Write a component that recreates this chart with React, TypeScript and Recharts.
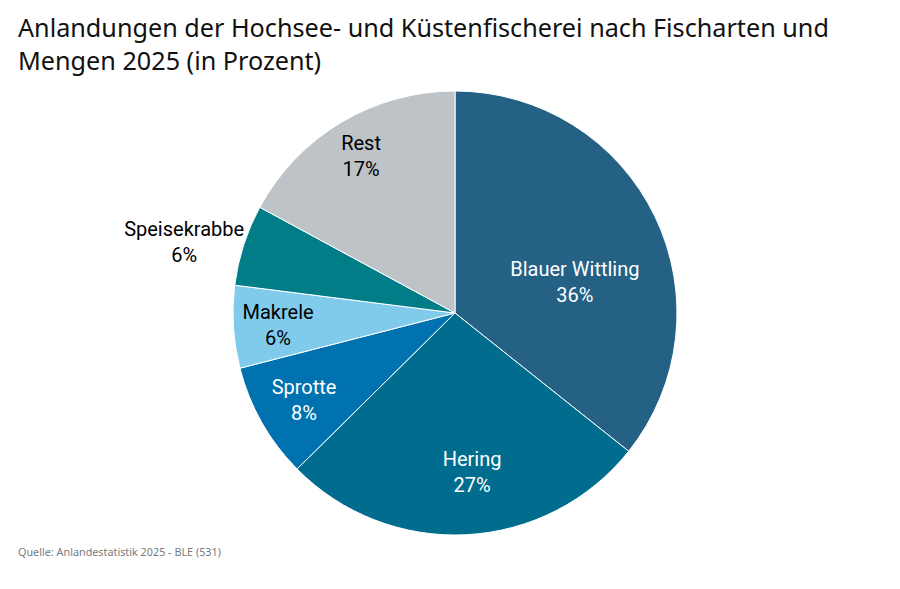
import React from 'react';
import { PieChart, Pie, Cell } from 'recharts';

const categories = ['Blauer Wittling', 'Hering', 'Sprotte', 'Makrele', 'Speisekrabbe', 'Rest'];
const values = [35.7, 26.9, 8.4, 6.0, 5.9, 17.1];
const percentLabels = ['36%', '27%', '8%', '6%', '6%', '17%'];
const colors = ['#246184', '#006d8f', '#0072b0', '#80cbeb', '#007d87', '#bdc3c7'];
const labelColors = ['#ffffff', '#ffffff', '#ffffff', '#000000', '#000000', '#000000'];
// label placement relative to pie centre, as fractions of the outer radius
const labelOffsetX = [0.54, 0.077, -0.68, -0.797, -1.22, -0.423];
const labelOffsetY = [-0.14, 0.716, 0.39, 0.054, -0.32, -0.707];

const data = categories.map((name, i) => ({ name, value: values[i], pct: percentLabels[i] }));

const FONT = '"Noto Sans", sans-serif';
const LABEL_FONT = 'Roboto, "Noto Sans", sans-serif';

const renderLabel = (props: any) => {
  const { cx, cy, outerRadius, index } = props;
  const x = cx + labelOffsetX[index] * outerRadius;
  const y = cy + labelOffsetY[index] * outerRadius;
  return (
    <text
      x={x}
      y={y}
      textAnchor="middle"
      fill={labelColors[index]}
      fontFamily={LABEL_FONT}
      fontSize={20}
      fontWeight={400}
    >
      <tspan x={x} dy={-6}>{categories[index]}</tspan>
      <tspan x={x} dy={26}>{percentLabels[index]}</tspan>
    </text>
  );
};

export default function App() {
  return (
    <div style={{ position: 'absolute', left: 0, top: 0, width: 900, height: 589, background: '#fff', fontFamily: FONT }}>
      <div style={{ position: 'absolute', left: 18, top: 11, fontSize: 25.2, lineHeight: '33px', color: '#111', fontWeight: 400, width: 880 }}>
        Anlandungen der Hochsee- und Küstenfischerei nach Fischarten und<br />Mengen 2025 (in Prozent)
      </div>
      <div style={{ position: 'absolute', left: 18, top: 544, fontSize: 10.8, color: '#7a7a7a' }}>
        Quelle: Anlandestatistik 2025 - BLE (531)
      </div>
      <div style={{ position: 'absolute', left: 0, top: 0 }}>
        <PieChart width={900} height={589} margin={{ top: 0, right: 0, bottom: 0, left: 0 }}>
          <Pie
            data={data}
            dataKey="value"
            nameKey="name"
            cx={455}
            cy={313}
            outerRadius={222}
            innerRadius={0}
            startAngle={90}
            endAngle={-270}
            stroke="#ffffff"
            strokeWidth={1}
            label={renderLabel}
            labelLine={false}
            isAnimationActive={false}
          >
            {data.map((d, i) => (
              <Cell key={d.name} fill={colors[i]} />
            ))}
          </Pie>
        </PieChart>
      </div>
    </div>
  );
}
